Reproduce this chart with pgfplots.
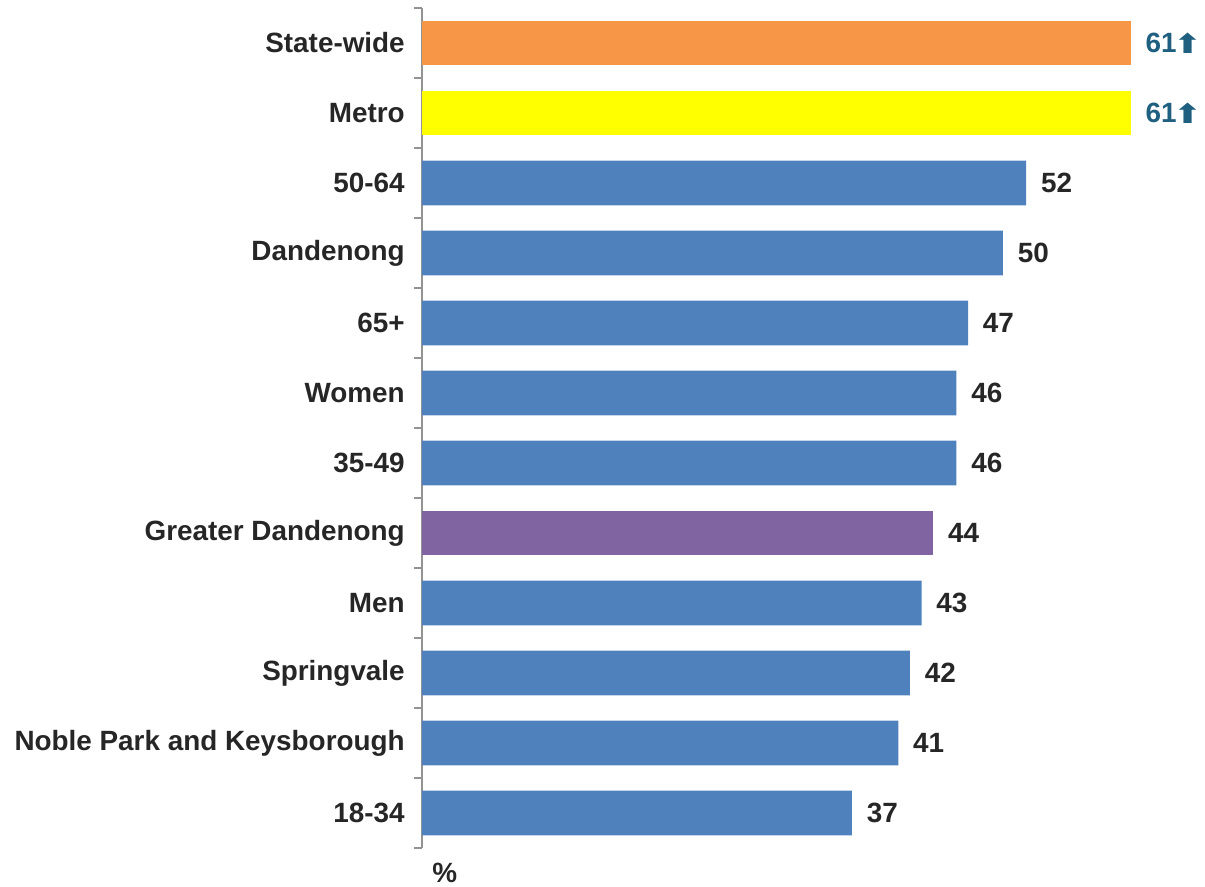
\documentclass[border=0pt]{standalone}
\usepackage{pgfplots}
\pgfplotsset{compat=1.18}
\usepackage{fontspec}
\setmainfont{Liberation Sans}
\newfontfamily\arrowfont{DejaVu Sans}
\definecolor{barblue}{HTML}{4F81BD}
\definecolor{barorange}{HTML}{F79646}
\definecolor{baryellow}{HTML}{FFFF00}
\definecolor{barpurple}{HTML}{8064A2}
\definecolor{txt}{HTML}{262626}
\definecolor{teal}{HTML}{1F5F7F}
\newcommand{\uparr}{\kern-2pt{\arrowfont\fontsize{17}{20}\selectfont\raisebox{-1pt}{\scalebox{1.45}[1.2]{⬆}}}}
\begin{document}
\begin{tikzpicture}
\begin{axis}[
  name=ax,
  scale only axis,
  width=587.25pt, height=630pt,
  xbar, bar shift=0pt, bar width=0.64,
  xmin=0, xmax=67.4,
  ymin=-0.5, ymax=11.5,
  axis x line=none,
  axis y line*=left,
  y axis line style={draw=gray!85, line width=1.1pt},
  ytick={0,...,11},
  major tick length=0pt,
  minor ytick={-0.5,0.5,...,11.5},
  minor tick length=6pt,
  tick align=outside,
  minor tick style={draw=gray!85, line width=1.1pt},
  yticklabels={18-34,Noble Park and Keysborough,Springvale,Men,Greater Dandenong,35-49,Women,65+,Dandenong,50-64,Metro,State-wide},
  yticklabel style={font=\fontsize{20.9}{25}\selectfont\bfseries, text=txt, inner sep=0pt, xshift=-12.75pt},
  clip=false,
  nodes near coords,
  /pgf/number format/assume math mode=true,
  nodes near coords style={font=\fontsize{20.9}{25}\selectfont\bfseries, text=txt, anchor=west, inner sep=0pt, xshift=11pt},
]
\addplot[fill=barblue, draw=none] coordinates {
  (37,0) (41,1) (42,2) (43,3) (46,5) (46,6) (47,7) (50,8) (52,9)};
\addplot[fill=barpurple, draw=none] coordinates {(44,4)};
\addplot[fill=baryellow, draw=none, nodes near coords={\pgfmathprintnumber\pgfplotspointmeta\uparr}, nodes near coords style={text=teal}] coordinates {(61,10)};
\addplot[fill=barorange, draw=none, nodes near coords={\pgfmathprintnumber\pgfplotspointmeta\uparr}, nodes near coords style={text=teal}] coordinates {(61,11)};
\node[anchor=west, inner sep=0pt, font=\fontsize{20.9}{25}\selectfont\bfseries, text=txt] at ([xshift=7.5pt,yshift=-18.5pt]rel axis cs:0,0) {\%};
\end{axis}
\pgfresetboundingbox
\path ([xshift=-316.5pt,yshift=-28.5pt]ax.south west) rectangle ++(903.75pt,664.5pt);
\end{tikzpicture}
\end{document}
